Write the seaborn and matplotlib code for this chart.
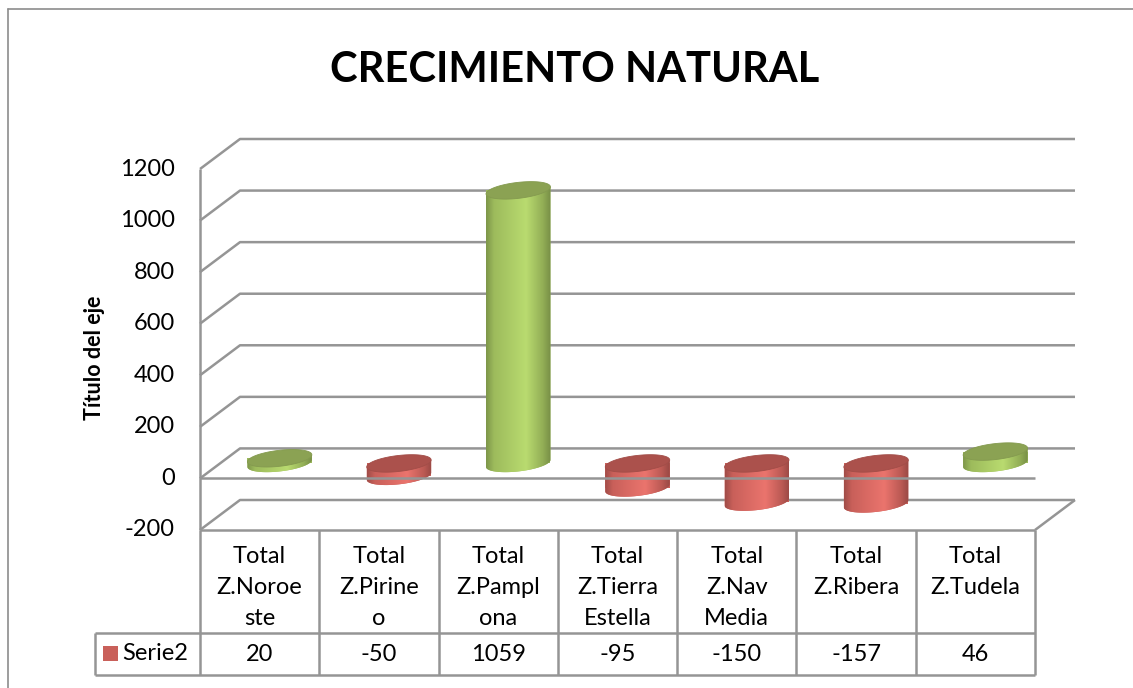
import numpy as np
import pandas as pd
import matplotlib
matplotlib.use("Agg")
import matplotlib.pyplot as plt
import seaborn as sns
from matplotlib.patches import Rectangle, Polygon
from matplotlib.lines import Line2D
from matplotlib.transforms import Affine2D
import matplotlib.colors as mcolors

# ---------------- data ----------------
title = "CRECIMIENTO NATURAL"
categories = ["Total\nZ.Noroe\nste", "Total\nZ.Pirine\no", "Total\nZ.Pampl\nona",
              "Total\nZ.Tierra\nEstella", "Total\nZ.Nav\nMedia", "Total\nZ.Ribera",
              "Total\nZ.Tudela"]
values = [20, -50, 1059, -95, -150, -157, 46]
value_labels = ["20", "-50", "1059", "-95", "-150", "-157", "46"]
series_name = "Serie2"
y_ticks = [-200, 0, 200, 400, 600, 800, 1000, 1200]
y_title = "Título del eje"

# ---------------- style ----------------
GREEN = "#9dbb5c"
RED = "#c9605a"
GREEN_TOP = "#8ba253"
RED_TOP = "#ab514c"
GRID = "#959595"
TXT = "#000000"
FS = 17

sns.set_theme(style="white")
plt.rcParams['font.family'] = ['Lato', 'DejaVu Sans']

W_PX, H_PX = 1133, 688
fig = plt.figure(figsize=(W_PX / 100, H_PX / 100), dpi=100)
ax = fig.add_axes([200 / W_PX, 158 / H_PX, 835 / W_PX, 361 / H_PX])

df = pd.DataFrame({"zona": categories, "valor": values})
df["signo"] = np.where(df["valor"] >= 0, "pos", "neg")

CYL_W = 0.54
sns.barplot(data=df, x="zona", y="valor", hue="signo",
            palette={"pos": GREEN, "neg": RED}, dodge=False, width=CYL_W,
            legend=False, errorbar=None, saturation=1, ax=ax, zorder=2)

XMIN, XMAX = -0.5, len(categories) - 0.5
YMIN, YMAX = y_ticks[0], y_ticks[-1]
ax.set_xlim(XMIN, XMAX)
ax.set_ylim(YMIN, YMAX)
ax.axis("off")

# pixel -> data scale
o = ax.transData.transform([[0, 0]])[0]
px_x = ax.transData.transform([[1, 0]])[0][0] - o[0]
px_y = ax.transData.transform([[0, 1]])[0][1] - o[1]
DX, DY = 40 / px_x, 30 / px_y          # depth of the 3D box

# ---------------- walls / gridlines ----------------
def line(xs, ys, z=1, lw=1.8, color=GRID):
    ax.add_line(Line2D(xs, ys, color=color, lw=lw, zorder=z, clip_on=False,
                       solid_capstyle="butt"))

for t in y_ticks:
    line([XMIN, XMIN + DX, XMAX + DX], [t, t + DY, t + DY])
line([XMIN, XMIN], [YMIN, YMAX])
line([XMAX, XMAX + DX], [YMIN, YMIN + DY])
line([XMIN, XMAX], [YMIN, YMIN], z=5)
line([XMIN, XMAX], [0, 0], z=4)

for t in y_ticks:
    ax.text(XMIN - 25 / px_x, t, str(t), ha="right", va="center",
            fontsize=FS, color=TXT, clip_on=False)

# ---------------- cylinders ----------------
a = CYL_W / 2
b = 8 / px_y           # ellipse vertical semi-axis
sh = 3.5 / px_y        # tilt (half rise across the width)
th = np.linspace(0, 2 * np.pi, 120)

def ellipse_pts(cx, cy, t):
    x = cx + a * np.cos(t)
    y = cy + b * np.sin(t) + sh * np.cos(t)
    return np.column_stack([x, y])

def side_cmap(base):
    c = np.array(mcolors.to_rgb(base))
    dark = c * 0.80
    light = np.clip(c * 1.13 + 0.03, 0, 1)
    return mcolors.LinearSegmentedColormap.from_list(
        "s", [(0, dark), (0.12, c), (0.62, light), (0.88, c * 0.93), (1, dark * 0.95)])

shift = Affine2D().translate(DX / 2, DY / 2) + ax.transData
for p in list(ax.patches):
    cxp = p.get_x() + p.get_width() / 2
    i = int(round(cxp))
    v = values[i]
    p.set_transform(shift)
    p.set_clip_on(False)
    p.set_edgecolor("none")

    cx = i + DX / 2
    base = DY / 2
    topv = v + DY / 2
    lo, hi = min(base, topv), max(base, topv)
    col = GREEN if v >= 0 else RED
    tcol = GREEN_TOP if v >= 0 else RED_TOP

    lower = ellipse_pts(cx, lo, np.linspace(np.pi, 2 * np.pi, 60))
    pts = np.vstack([[cx - a, hi - sh], lower, [cx + a, hi + sh]])
    side = Polygon(pts, closed=True, facecolor=col, edgecolor="none",
                   zorder=2.4, clip_on=False)
    ax.add_patch(side)
    grad = np.linspace(0, 1, 200).reshape(1, -1)
    im = ax.imshow(grad, cmap=side_cmap(col), aspect="auto",
                   extent=[cx - a, cx + a, lo - b - sh, hi + sh],
                   zorder=2.5, interpolation="bilinear")
    im.set_clip_path(side)

    top = Polygon(ellipse_pts(cx, hi, th), closed=True, facecolor=tcol,
                  edgecolor=mcolors.to_hex(np.array(mcolors.to_rgb(tcol)) * 0.95),
                  lw=0.6, zorder=3, clip_on=False)
    ax.add_patch(top)

ax.set_xlim(XMIN, XMAX)
ax.set_ylim(YMIN, YMAX)

# ---------------- data table ----------------
row1 = YMIN - 103 / px_y
row2 = YMIN - 145 / px_y
leg_x = XMIN - 105 / px_x
line([leg_x, XMAX], [row1, row1], z=5)
line([leg_x, XMAX], [row2, row2], z=5)
line([leg_x, leg_x], [row1, row2], z=5)
for k in range(len(categories) + 1):
    xk = XMIN + k
    line([xk, xk], [YMIN, row2], z=5)

for i, (c, vl) in enumerate(zip(categories, value_labels)):
    ax.text(i, YMIN - 16 / px_y, c, ha="center", va="top", fontsize=FS,
            linespacing=1.6, color=TXT, clip_on=False, zorder=6)
    ax.text(i, (row1 + row2) / 2 - 1 / px_y, vl, ha="center", va="center",
            fontsize=FS, color=TXT, clip_on=False, zorder=6)

sq = 15
ax.add_patch(Rectangle((leg_x + 8 / px_x, (row1 + row2) / 2 - sq / 2 / px_y),
                       sq / px_x, sq / px_y, facecolor=RED, edgecolor="none",
                       clip_on=False, zorder=6))
ax.text(leg_x + 27 / px_x, (row1 + row2) / 2, series_name, ha="left",
        va="center", fontsize=FS, color=TXT, clip_on=False, zorder=6)

# ---------------- titles / frame ----------------
fig.text(575 / W_PX, 1 - 70 / H_PX, title, ha="center", va="center",
         fontsize=30, fontweight="bold", color=TXT)
ax.text(XMIN - 105 / px_x, (YMIN + YMAX) / 2 - 8 / px_y, y_title, rotation=90,
        ha="center", va="center", fontsize=15.5, fontweight="bold",
        color=TXT, clip_on=False)

fig.add_artist(Line2D([8 / W_PX, 8 / W_PX], [0, 1 - 9 / H_PX],
                      transform=fig.transFigure, color="#8c8c8c", lw=1.2))
fig.add_artist(Line2D([8 / W_PX, 1], [1 - 9 / H_PX, 1 - 9 / H_PX],
                      transform=fig.transFigure, color="#8c8c8c", lw=1.2))

fig.savefig("out.png", dpi=100)
